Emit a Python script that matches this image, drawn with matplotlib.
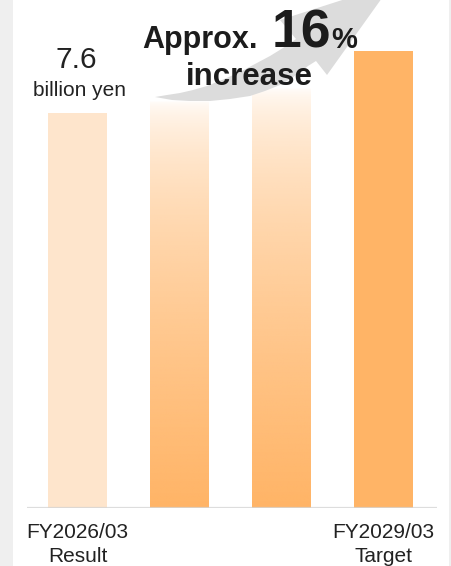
import numpy as np
import matplotlib
matplotlib.use("Agg")
import matplotlib.pyplot as plt
from matplotlib.patches import Polygon, Rectangle

plt.rcParams['font.family'] = ['Liberation Sans', 'DejaVu Sans']

# ---- data ----
categories = ["FY2026/03\nResult", "", "", "FY2029/03\nTarget"]
values = [7.6, 7.85, 8.1, 8.8]
bar_styles = ["solid_light", "gradient", "gradient", "solid"]
value_label = "7.6"
unit_label = "billion yen"
headline_prefix = "Approx."
headline_number = "16"
headline_suffix = "%"
headline_word = "increase"

W, H = 452, 566
DPI = 100
fig = plt.figure(figsize=(W / DPI, H / DPI), dpi=DPI)
fig.patch.set_facecolor("white")

def fx(px):
    return px / W

def fy(py):
    return 1 - py / H

# grey side borders
fig.patches.append(Rectangle((0, 0), fx(13), 1, transform=fig.transFigure,
                             facecolor="#EFEFEF", edgecolor="none", zorder=0))
fig.patches.append(Rectangle((fx(449), 0), fx(3), 1, transform=fig.transFigure,
                             facecolor="#EFEFEF", edgecolor="none", zorder=0))

# axes: left 27px, right 437px, bottom 508px, top 0px
ax = fig.add_axes([fx(27), fy(508), fx(437) - fx(27), fy(0) - fy(508)])
ax.set_facecolor("none")
px_per_unit = 395 / 7.6
ax.set_ylim(0, 508 / px_per_unit)
ax.set_xlim(-50.5 / 102, 3 + 53.5 / 102)
for s in ax.spines.values():
    s.set_visible(False)
ax.set_yticks([])

x = np.arange(len(values))
width = 59 / 102
orange = np.array([255, 180, 102]) / 255.0
light = "#FEE5CC"

bars = ax.bar(x, values, width=width, color="none", edgecolor="none", zorder=2)
for b, v, st, xi in zip(bars, values, bar_styles, x):
    if st == "solid_light":
        b.set_facecolor(light)
    elif st == "solid":
        b.set_facecolor(orange)
    else:
        n = 256
        t = np.linspace(0, 1, n)[:, None]  # 0 top -> 1 bottom
        alpha = t ** 0.55
        img = np.zeros((n, 2, 4))
        img[..., :3] = orange
        img[..., 3] = alpha
        im = ax.imshow(img, extent=(xi - width / 2, xi + width / 2, 0, v),
                       aspect="auto", origin="upper", zorder=2,
                       interpolation="bilinear")
        im.set_clip_path(b)

ax.axhline(0, color="#D5D5D5", lw=1.6, alpha=0.8, zorder=3)

ax.set_xticks(x)
ax.set_xticklabels(categories, fontsize=15, color="#222222", linespacing=1.38)
ax.tick_params(axis="x", length=0, pad=10.5)

# ---- arrow (decoration, figure pixel coords) ----
arrow_px = [
    (155, 97), (172, 100), (190, 101), (210, 101), (230, 99), (250, 96),
    (265, 91), (280, 85), (292, 78), (308, 66), (316, 61),
    (327, 75), (392, -16), (280, 20),
    (296, 39), (283, 48), (270, 56), (255, 64), (240, 72), (222, 80),
    (207, 86), (193, 90), (180, 93), (167, 95),
]
arrow = Polygon([(fx(a), fy(b)) for a, b in arrow_px], closed=True,
                transform=fig.transFigure, facecolor="#DCDCDC",
                edgecolor="none", zorder=4)
fig.patches.append(arrow)

# ---- texts ----
tc = "#1C1C1C"
fig.text(fx(76), fy(68), value_label, fontsize=21.5, color="#222222",
         ha="center", va="baseline", zorder=6)
fig.text(fx(80), fy(96), unit_label, fontsize=15, color="#222222",
         ha="center", va="baseline", zorder=6)
fig.text(fx(142), fy(48), headline_prefix, fontsize=22, fontweight="bold",
         color=tc, ha="left", va="baseline", zorder=6)
fig.text(fx(272), fy(48), headline_number, fontsize=38.5, fontweight="bold",
         color=tc, ha="left", va="baseline", zorder=6)
fig.text(fx(331), fy(48), headline_suffix, fontsize=21, fontweight="bold",
         color=tc, ha="left", va="baseline", zorder=6)
fig.text(fx(249), fy(85), headline_word, fontsize=22.5, fontweight="bold",
         color=tc, ha="center", va="baseline", zorder=6)

fig.savefig("out.png", dpi=DPI, facecolor="white")
